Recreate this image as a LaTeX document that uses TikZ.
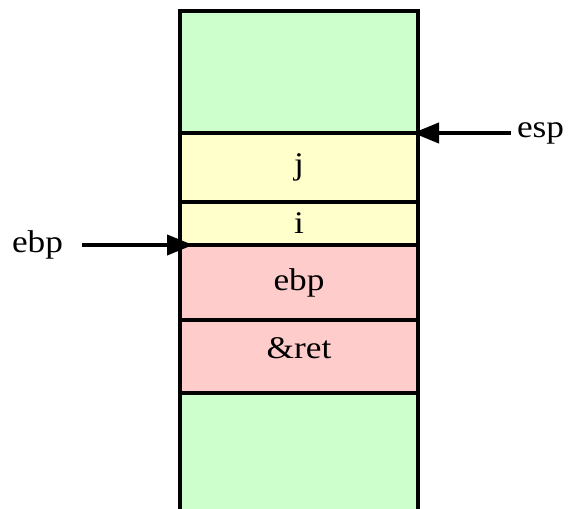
\documentclass[tikz,border=0pt]{standalone}
\usepackage{fontspec}
\setmainfont{Liberation Serif}[FakeStretch=1.12]
\usetikzlibrary{arrows.meta, positioning}

\definecolor{freegreen}{HTML}{CCFFCC}
\definecolor{localyellow}{HTML}{FFFFCC}
\definecolor{savedred}{HTML}{FFCCCC}

\begin{document}
\begin{tikzpicture}[
    x=1pt, y=1pt,
    node distance=0pt,
    every node/.style={font=\fontsize{31.5}{36}\selectfont, inner sep=0pt, outer sep=0pt},
    cell/.style={rectangle, draw=black, line width=4pt, minimum width=238pt},
    free/.style={cell, fill=freegreen},
    local/.style={cell, fill=localyellow},
    saved/.style={cell, fill=savedred},
    ptr/.style={-{Triangle[length=26pt,width=20pt]}, line width=4pt} % register pointers
]
\useasboundingbox (0,0) rectangle (572,-508);

\node[free, minimum height=122pt] (stacktop) at (299,-72) {};
\node[local, below=of stacktop, minimum height=69pt] (jvar) {j};
\node[local, below=of jvar, minimum height=43pt] (ivar) {i};
\node[saved, below=of ivar, minimum height=75pt] (oldebp) {ebp};
\node[saved, below=of oldebp, minimum height=73pt, text depth=17pt] (retaddr) {\&ret};
\node[free, below=of retaddr, minimum height=130pt] (stackbot) {};

\node (esp) [right=99pt of jvar.north east] {esp};
\node (ebpreg) [left=117pt of ivar.south west] {ebp};

\draw[ptr, shorten <=6pt, shorten >=-5pt] (esp.west) -- (jvar.north east);
\draw[ptr, shorten <=19pt, shorten >=-13pt] (ebpreg.east) -- (ivar.south west);

\end{tikzpicture}
\end{document}
